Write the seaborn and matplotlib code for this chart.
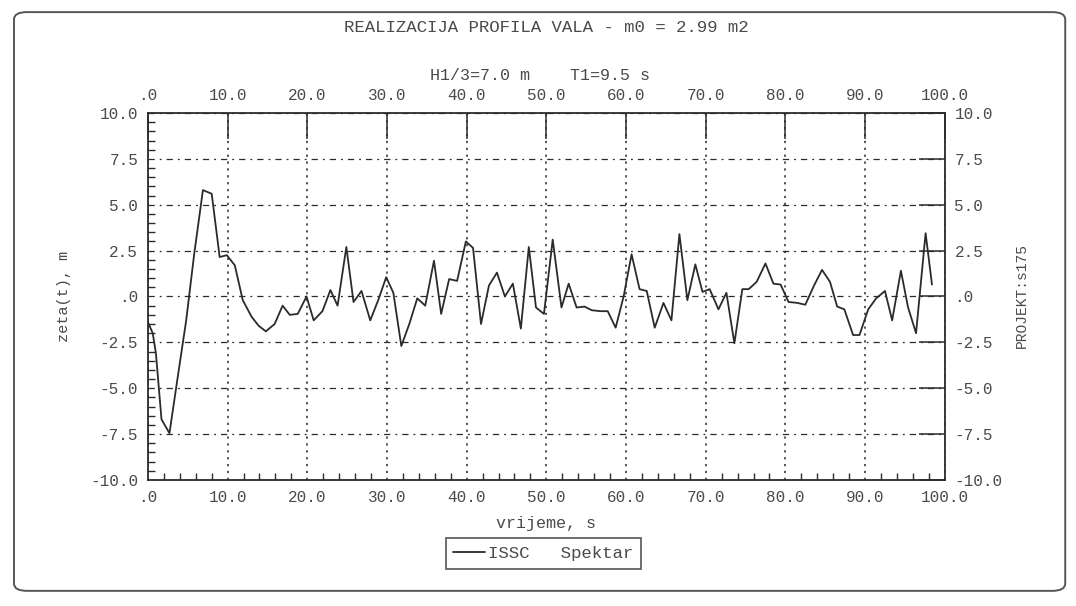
import numpy as np
import pandas as pd
import matplotlib
matplotlib.use("Agg")
import matplotlib.pyplot as plt
from matplotlib.ticker import MultipleLocator, FuncFormatter
from matplotlib.patches import FancyBboxPatch
import seaborn as sns

# wave profile realisation
time_s = [0.0, 0.6, 1.0, 1.7, 2.7, 3.7, 4.8, 5.8, 6.9, 8.0, 9.0, 9.9, 10.9, 11.9,
          13.0, 13.9, 14.8, 15.9, 16.9, 17.8, 18.8, 19.9, 20.8, 21.9, 22.9, 23.8,
          24.9, 25.8, 26.8, 27.9, 28.9, 29.9, 30.8, 31.8, 32.8, 33.8, 34.8, 35.9,
          36.8, 37.8, 38.8, 39.9, 40.8, 41.8, 42.8, 43.8, 44.8, 45.8, 46.8, 47.8,
          48.7, 49.7, 50.8, 51.9, 52.8, 53.8, 54.8, 55.7, 56.8, 57.7, 58.7, 59.7,
          60.7, 61.7, 62.6, 63.6, 64.7, 65.7, 66.7, 67.7, 68.7, 69.6, 70.5, 71.6,
          72.6, 73.6, 74.6, 75.4, 76.4, 77.5, 78.5, 79.4, 80.4, 81.5, 82.5, 83.6,
          84.6, 85.6, 86.5, 87.4, 88.5, 89.3, 90.4, 91.4, 92.5, 93.4, 94.5, 95.4,
          96.4, 97.6, 98.4]
zeta_m = [-1.4, -2.0, -3.1, -6.7, -7.45, -4.5, -1.3, 2.3, 5.8, 5.6, 2.15, 2.25, 1.7, -0.2,
          -1.1, -1.6, -1.9, -1.5, -0.5, -1.0, -0.95, 0.0, -1.3, -0.8, 0.35, -0.5,
          2.7, -0.3, 0.3, -1.3, -0.2, 1.05, 0.2, -2.7, -1.5, -0.1, -0.5, 1.95,
          -0.95, 0.95, 0.85, 3.0, 2.65, -1.5, 0.6, 1.3, 0.0, 0.7, -1.75, 2.7,
          -0.6, -0.95, 3.1, -0.6, 0.7, -0.6, -0.55, -0.75, -0.8, -0.8, -1.7, 0.0,
          2.3, 0.4, 0.3, -1.7, -0.35, -1.3, 3.4, -0.2, 1.75, 0.25, 0.4, -0.7,
          0.2, -2.55, 0.4, 0.4, 0.8, 1.8, 0.7, 0.65, -0.3, -0.35, -0.45, 0.6,
          1.45, 0.8, -0.55, -0.7, -2.1, -2.1, -0.7, -0.1, 0.3, -1.3, 1.4, -0.6,
          -2.0, 3.45, 0.65]

x_ticks = [0, 10, 20, 30, 40, 50, 60, 70, 80, 90, 100]
y_ticks = [-10, -7.5, -5, -2.5, 0, 2.5, 5, 7.5, 10]

df = pd.DataFrame({"vrijeme": time_s, "zeta": zeta_m})

sns.set_theme(style="white")
plt.rcParams["font.family"] = ["Liberation Mono", "DejaVu Sans Mono"]
ink = "#2b2b2b"
txt = "#4a4a4a"

fig = plt.figure(figsize=(10.76, 6.06), dpi=100)
ax = fig.add_axes([0.1375, 0.208, 0.7405, 0.6055])

sns.lineplot(data=df, x="vrijeme", y="zeta", ax=ax, color=ink, linewidth=1.3,
             label="ISSC   Spektar", legend=False)

ax.set_xlim(0, 100)
ax.set_ylim(-10, 10)

def fmt(v, pos):
    s = f"{v:.1f}"
    if s in ("0.0", "-0.0"):
        return ".0"
    return s

ax.set_xticks(x_ticks)
ax.set_yticks(y_ticks)
ax.xaxis.set_major_formatter(FuncFormatter(fmt))
ax.yaxis.set_major_formatter(FuncFormatter(fmt))
ax.xaxis.set_minor_locator(MultipleLocator(2))
ax.yaxis.set_minor_locator(MultipleLocator(0.5))

ax.tick_params(which="major", direction="in", length=19, width=1.1, color=ink,
               top=True, right=True, labeltop=True, labelright=True,
               labelsize=11.5, labelcolor=txt, pad=7)
ax.tick_params(which="minor", direction="in", length=5, width=1.0, color=ink,
               bottom=True, left=True, top=False, right=False)

ax.xaxis.grid(True, linestyle=(0, (1.5, 3)), color=ink, linewidth=1.1)
ax.yaxis.grid(True, linestyle=(0, (5, 4, 1.5, 4)), color=ink, linewidth=0.9)

for sp in ax.spines.values():
    sp.set_color(ink)
    sp.set_linewidth(1.3)

ax.set_xlabel("vrijeme, s", fontsize=12, color=txt, labelpad=8)
ax.set_ylabel("zeta(t), m", fontsize=11, color=txt, labelpad=14)

fig.text(0.508, 0.955, "REALIZACIJA PROFILA VALA - m0 = 2.99 m2", ha="center",
         va="center", fontsize=12.5, color=txt)
fig.text(0.502, 0.876, "H1/3=7.0 m    T1=9.5 s", ha="center", va="center",
         fontsize=12, color=txt)
fig.text(0.950, 0.512, "PROJEKT:s175", rotation=90, ha="center", va="center",
         fontsize=10.5, color=txt)

handles, labels = ax.get_legend_handles_labels()
leg = fig.legend(handles, labels, loc="center", bbox_to_anchor=(0.505, 0.086),
                 fancybox=False, frameon=True, edgecolor=ink, fontsize=12.5,
                 handlelength=1.8, handletextpad=0.2, borderpad=0.45)
leg.get_frame().set_linewidth(1.2)
for t in leg.get_texts():
    t.set_color(txt)

border = FancyBboxPatch((0.013, 0.025), 0.977, 0.955,
                        boxstyle="round,pad=0,rounding_size=0.012",
                        transform=fig.transFigure, fill=False,
                        edgecolor="#555555", linewidth=1.4)
fig.patches.append(border)

fig.savefig("out.png", dpi=100)
